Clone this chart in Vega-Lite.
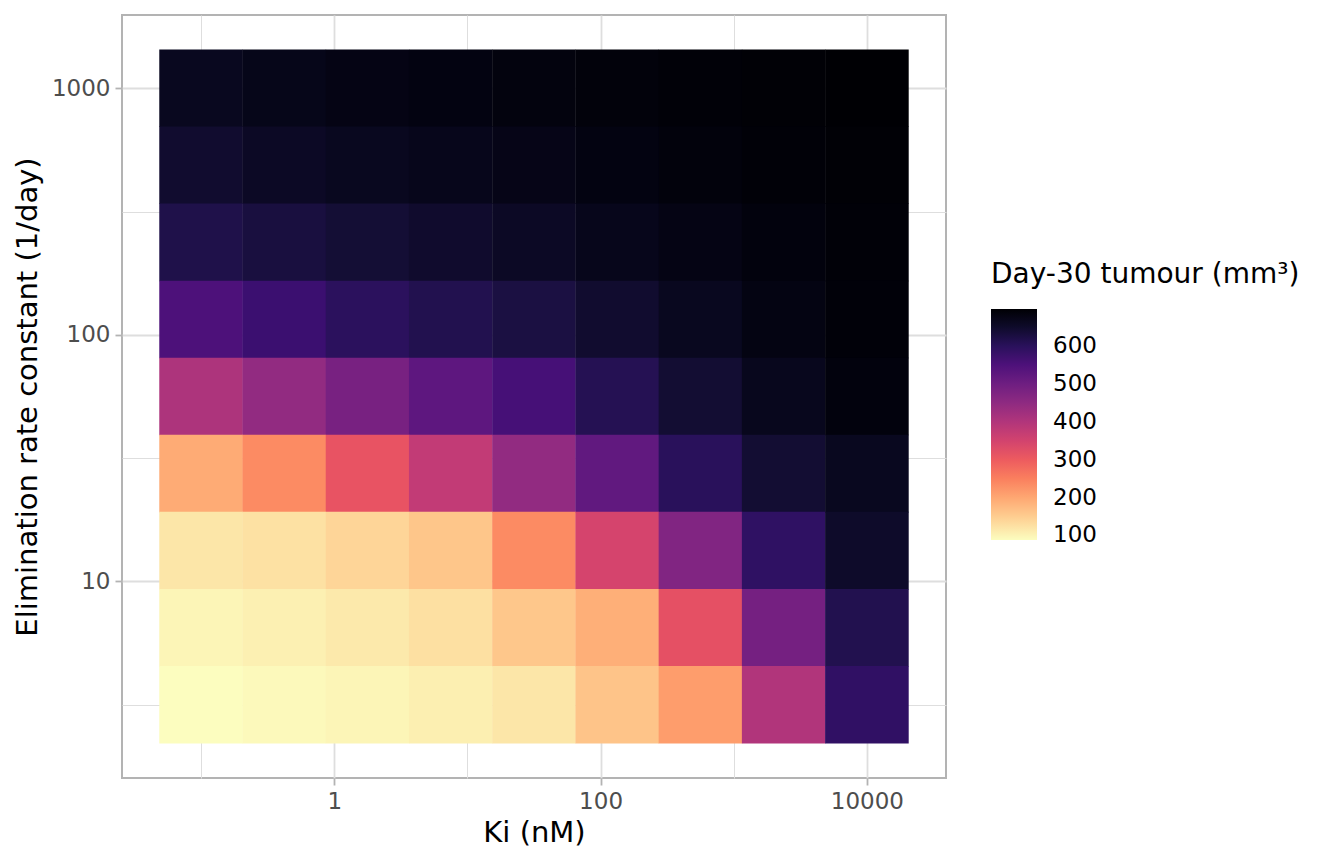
{
  "$schema": "https://vega.github.io/schema/vega-lite/v6.json",
  "width": 824,
  "height": 763,
  "autosize": "none",
  "padding": {"left": 122, "top": 15, "right": 398, "bottom": 86},
  "background": "#FFFFFF",
  "data": {
    "values": [
      {"ki": 0.1, "kel": 1000, "tumour": 662},
      {"ki": 0.4217, "kel": 1000, "tumour": 670},
      {"ki": 1.7783, "kel": 1000, "tumour": 675},
      {"ki": 7.4989, "kel": 1000, "tumour": 680},
      {"ki": 31.623, "kel": 1000, "tumour": 684},
      {"ki": 133.35, "kel": 1000, "tumour": 688},
      {"ki": 562.34, "kel": 1000, "tumour": 691},
      {"ki": 2371.4, "kel": 1000, "tumour": 694},
      {"ki": 10000, "kel": 1000, "tumour": 697},

      {"ki": 0.1, "kel": 486.97, "tumour": 645},
      {"ki": 0.4217, "kel": 486.97, "tumour": 655},
      {"ki": 1.7783, "kel": 486.97, "tumour": 662},
      {"ki": 7.4989, "kel": 486.97, "tumour": 667},
      {"ki": 31.623, "kel": 486.97, "tumour": 672},
      {"ki": 133.35, "kel": 486.97, "tumour": 680},
      {"ki": 562.34, "kel": 486.97, "tumour": 686},
      {"ki": 2371.4, "kel": 486.97, "tumour": 691},
      {"ki": 10000, "kel": 486.97, "tumour": 694},

      {"ki": 0.1, "kel": 237.14, "tumour": 617},
      {"ki": 0.4217, "kel": 237.14, "tumour": 628},
      {"ki": 1.7783, "kel": 237.14, "tumour": 638},
      {"ki": 7.4989, "kel": 237.14, "tumour": 647},
      {"ki": 31.623, "kel": 237.14, "tumour": 655},
      {"ki": 133.35, "kel": 237.14, "tumour": 667},
      {"ki": 562.34, "kel": 237.14, "tumour": 675},
      {"ki": 2371.4, "kel": 237.14, "tumour": 685},
      {"ki": 10000, "kel": 237.14, "tumour": 692},

      {"ki": 0.1, "kel": 115.48, "tumour": 550},
      {"ki": 0.4217, "kel": 115.48, "tumour": 575},
      {"ki": 1.7783, "kel": 115.48, "tumour": 598},
      {"ki": 7.4989, "kel": 115.48, "tumour": 612},
      {"ki": 31.623, "kel": 115.48, "tumour": 625},
      {"ki": 133.35, "kel": 115.48, "tumour": 645},
      {"ki": 562.34, "kel": 115.48, "tumour": 662},
      {"ki": 2371.4, "kel": 115.48, "tumour": 678},
      {"ki": 10000, "kel": 115.48, "tumour": 690},

      {"ki": 0.1, "kel": 56.234, "tumour": 405},
      {"ki": 0.4217, "kel": 56.234, "tumour": 445},
      {"ki": 1.7783, "kel": 56.234, "tumour": 485},
      {"ki": 7.4989, "kel": 56.234, "tumour": 525},
      {"ki": 31.623, "kel": 56.234, "tumour": 560},
      {"ki": 133.35, "kel": 56.234, "tumour": 608},
      {"ki": 562.34, "kel": 56.234, "tumour": 640},
      {"ki": 2371.4, "kel": 56.234, "tumour": 665},
      {"ki": 10000, "kel": 56.234, "tumour": 685},

      {"ki": 0.1, "kel": 27.384, "tumour": 195},
      {"ki": 0.4217, "kel": 27.384, "tumour": 235},
      {"ki": 1.7783, "kel": 27.384, "tumour": 313},
      {"ki": 7.4989, "kel": 27.384, "tumour": 375},
      {"ki": 31.623, "kel": 27.384, "tumour": 445},
      {"ki": 133.35, "kel": 27.384, "tumour": 520},
      {"ki": 562.34, "kel": 27.384, "tumour": 600},
      {"ki": 2371.4, "kel": 27.384, "tumour": 640},
      {"ki": 10000, "kel": 27.384, "tumour": 662},

      {"ki": 0.1, "kel": 13.335, "tumour": 118},
      {"ki": 0.4217, "kel": 13.335, "tumour": 125},
      {"ki": 1.7783, "kel": 13.335, "tumour": 140},
      {"ki": 7.4989, "kel": 13.335, "tumour": 160},
      {"ki": 31.623, "kel": 13.335, "tumour": 235},
      {"ki": 133.35, "kel": 13.335, "tumour": 345},
      {"ki": 562.34, "kel": 13.335, "tumour": 470},
      {"ki": 2371.4, "kel": 13.335, "tumour": 592},
      {"ki": 10000, "kel": 13.335, "tumour": 650},

      {"ki": 0.1, "kel": 6.4938, "tumour": 98},
      {"ki": 0.4217, "kel": 6.4938, "tumour": 104},
      {"ki": 1.7783, "kel": 6.4938, "tumour": 114},
      {"ki": 7.4989, "kel": 6.4938, "tumour": 126},
      {"ki": 31.623, "kel": 6.4938, "tumour": 158},
      {"ki": 133.35, "kel": 6.4938, "tumour": 190},
      {"ki": 562.34, "kel": 6.4938, "tumour": 318},
      {"ki": 2371.4, "kel": 6.4938, "tumour": 490},
      {"ki": 10000, "kel": 6.4938, "tumour": 612},

      {"ki": 0.1, "kel": 3.1623, "tumour": 88},
      {"ki": 0.4217, "kel": 3.1623, "tumour": 93},
      {"ki": 1.7783, "kel": 3.1623, "tumour": 98},
      {"ki": 7.4989, "kel": 3.1623, "tumour": 106},
      {"ki": 31.623, "kel": 3.1623, "tumour": 118},
      {"ki": 133.35, "kel": 3.1623, "tumour": 162},
      {"ki": 562.34, "kel": 3.1623, "tumour": 212},
      {"ki": 2371.4, "kel": 3.1623, "tumour": 400},
      {"ki": 10000, "kel": 3.1623, "tumour": 590}
    ]
  },
  "mark": {"type": "rect", "width": 83.6, "height": 77.6},
  "encoding": {
    "x": {
      "field": "ki",
      "type": "quantitative",
      "title": "Ki (nM)",
      "scale": {"type": "log", "domain": [0.02548, 39257], "nice": false},
      "axis": {
        "values": [0.1, 1, 10, 100, 1000, 10000],
        "format": "d",
        "labelExpr": "round(log(datum.value) / LN10) % 2 == 0 ? datum.label : ''",
        "tickOpacity": {"condition": {"test": "round(log(datum.value) / LN10) % 2 == 0", "value": 1}, "value": 0},
        "gridWidth": {"condition": {"test": "round(log(datum.value) / LN10) % 2 == 0", "value": 1.8}, "value": 1}
      }
    },
    "y": {
      "field": "kel",
      "type": "quantitative",
      "title": "Elimination rate constant (1/day)",
      "scale": {"type": "log", "domain": [1.5965, 1981.5], "nice": false},
      "axis": {
        "values": [3.1623, 10, 31.623, 100, 316.23, 1000],
        "format": "d",
        "labelExpr": "abs(log(datum.value) / LN10 - round(log(datum.value) / LN10)) < 0.01 ? datum.label : ''",
        "tickOpacity": {"condition": {"test": "abs(log(datum.value) / LN10 - round(log(datum.value) / LN10)) < 0.01", "value": 1}, "value": 0},
        "gridWidth": {"condition": {"test": "abs(log(datum.value) / LN10 - round(log(datum.value) / LN10)) < 0.01", "value": 1.8}, "value": 1}
      }
    },
    "color": {
      "field": "tumour",
      "type": "quantitative",
      "scale": {"scheme": "magma", "reverse": true, "zero": false, "nice": false},
      "legend": {
        "title": "Day-30 tumour (mm³)",
        "orient": "none",
        "legendX": 869,
        "legendY": 246,
        "direction": "vertical",
        "values": [100, 200, 300, 400, 500, 600],
        "gradientLength": 231,
        "gradientThickness": 46,
        "gradientStrokeWidth": 0,
        "titleFontSize": 28,
        "titleFontWeight": "normal",
        "titleColor": "#000000",
        "titlePadding": 20,
        "titleLimit": 400,
        "labelFontSize": 23,
        "labelColor": "#000000",
        "labelOffset": 16
      }
    }
  },
  "config": {
    "font": "DejaVu Sans",
    "view": {"stroke": "#b3b3b3", "strokeWidth": 2},
    "axis": {
      "domain": false,
      "grid": true,
      "gridColor": "#dedede",
      "tickColor": "#b3b3b3",
      "tickWidth": 1.8,
      "tickSize": 7,
      "labelColor": "#4d4d4d",
      "labelFontSize": 23,
      "labelPadding": 5,
      "titleFontSize": 29,
      "titleFontWeight": "normal",
      "titleColor": "#000000"
    },
    "axisX": {"titlePadding": 5},
    "axisY": {"titlePadding": 9}
  }
}
